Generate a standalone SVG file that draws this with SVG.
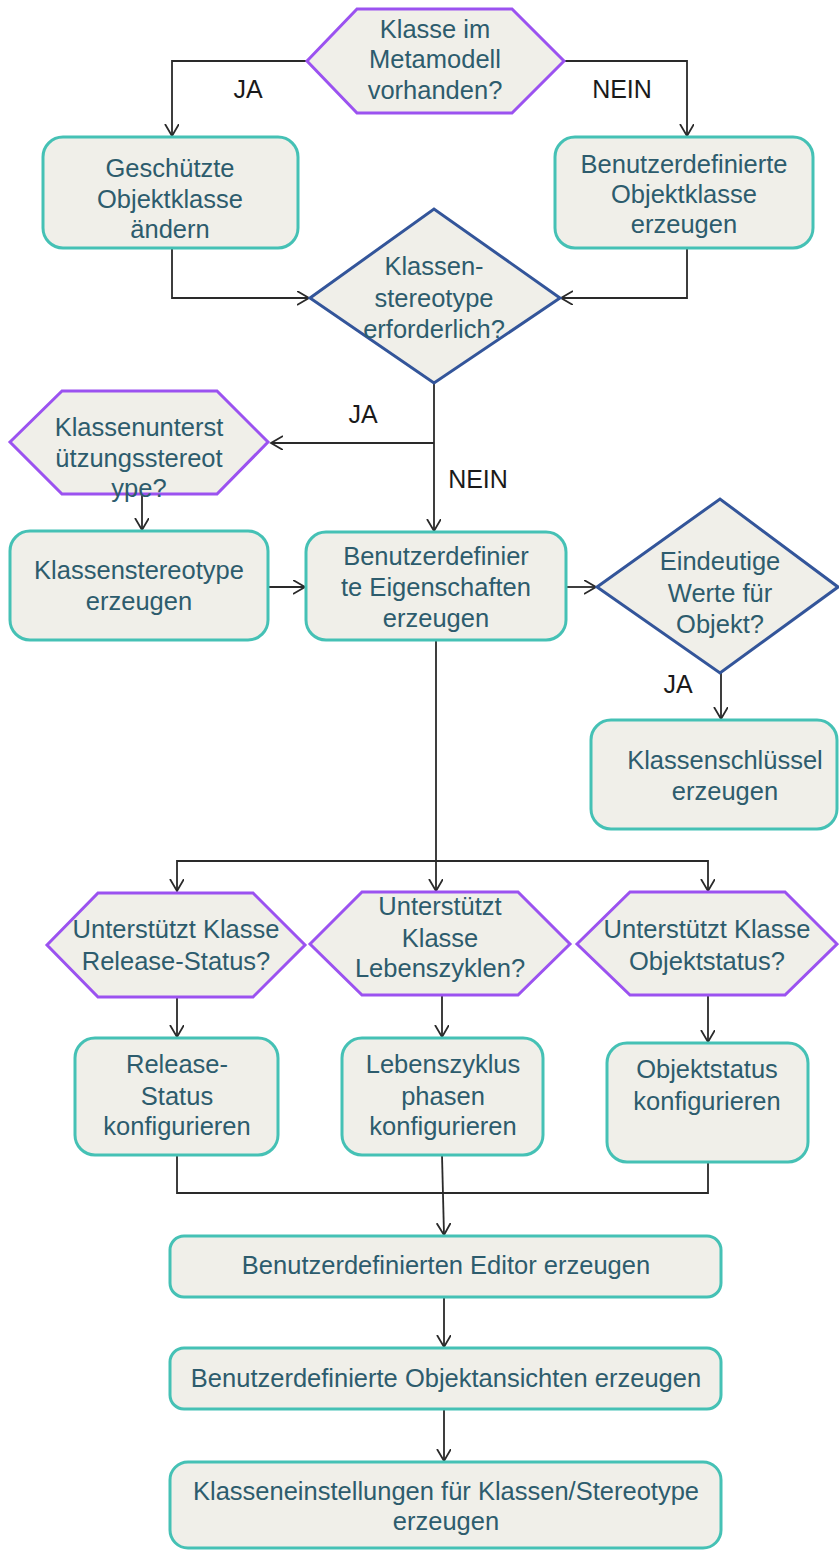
<svg xmlns="http://www.w3.org/2000/svg" width="839" height="1550" viewBox="0 0 839 1550">
<style>
  .box{fill:#f0efe9;stroke:#45c1b5;stroke-width:3}
  .hex{fill:#f0efe9;stroke:#9b52f0;stroke-width:3}
  .dia{fill:#f0efe9;stroke:#33559a;stroke-width:3}
  .t{font-family:"Liberation Sans",Arial,sans-serif;font-size:25.5px;fill:#2d5c6d;text-anchor:middle}
  .lbl{font-family:"Liberation Sans",Arial,sans-serif;font-size:25px;fill:#1a1a1a;text-anchor:middle}
  .c{fill:none;stroke:#2a2a2a;stroke-width:1.8}
</style>
<defs>
  <marker id="arr" markerUnits="userSpaceOnUse" markerWidth="14" markerHeight="16" refX="12" refY="7" orient="auto">
    <path d="M0,0 L12,7 L0,14" fill="none" stroke="#2a2a2a" stroke-width="1.8"/>
  </marker>
</defs>
<rect width="839" height="1550" fill="#ffffff"/>
<g id="connectors">
  <path class="c" d="M307,61 H172 V136" marker-end="url(#arr)"/>
  <path class="c" d="M564,61 H687 V136" marker-end="url(#arr)"/>
  <path class="c" d="M172,248 V298 H309" marker-end="url(#arr)"/>
  <path class="c" d="M687,248 V298 H561" marker-end="url(#arr)"/>
  <path class="c" d="M434,383 V531" marker-end="url(#arr)"/>
  <path class="c" d="M434,443 H271" marker-end="url(#arr)"/>
  <path class="c" d="M142,494 V530" marker-end="url(#arr)"/>
  <path class="c" d="M268,587 H305" marker-end="url(#arr)"/>
  <path class="c" d="M566,587 H596" marker-end="url(#arr)"/>
  <path class="c" d="M721,673 V719" marker-end="url(#arr)"/>
  <path class="c" d="M436,640 V891" marker-end="url(#arr)"/>
  <path class="c" d="M436,861 H177 V891" marker-end="url(#arr)"/>
  <path class="c" d="M436,861 H708 V891" marker-end="url(#arr)"/>
  <path class="c" d="M177,997 V1037" marker-end="url(#arr)"/>
  <path class="c" d="M442,995 V1037" marker-end="url(#arr)"/>
  <path class="c" d="M708,995 V1042" marker-end="url(#arr)"/>
  <path class="c" d="M177,1155 V1193 H708 V1162"/>
  <path class="c" d="M442,1155 L444,1235" marker-end="url(#arr)"/>
  <path class="c" d="M444,1297 V1347" marker-end="url(#arr)"/>
  <path class="c" d="M444,1409 V1461" marker-end="url(#arr)"/>
  <text class="lbl" x="248" y="98">JA</text>
  <text class="lbl" x="622" y="98">NEIN</text>
  <text class="lbl" x="363" y="423">JA</text>
  <text class="lbl" x="478" y="488">NEIN</text>
  <text class="lbl" x="678" y="693">JA</text>
</g>
<g id="n_metamodell">
  <polygon class="hex" points="307,61 357,9 512,9 564,61 512,113 357,113"/>
  <text class="t" x="435" y="38">Klasse im</text>
  <text class="t" x="435" y="68">Metamodell</text>
  <text class="t" x="435" y="99">vorhanden?</text>
</g>
<g id="n_geschuetzt">
  <rect class="box" x="43" y="137" width="255" height="111" rx="20"/>
  <text class="t" x="170" y="177">Geschützte</text>
  <text class="t" x="170" y="208">Objektklasse</text>
  <text class="t" x="170" y="238">ändern</text>
</g>
<g id="n_benutzerdef_klasse">
  <rect class="box" x="555" y="137" width="258" height="111" rx="20"/>
  <text class="t" x="684" y="173">Benutzerdefinierte</text>
  <text class="t" x="684" y="203">Objektklasse</text>
  <text class="t" x="684" y="233">erzeugen</text>
</g>
<g id="n_stereotype_erf">
  <polygon class="dia" points="310,298 434,209 560,298 434,383"/>
  <text class="t" x="434" y="275">Klassen-</text>
  <text class="t" x="434" y="307">stereotype</text>
  <text class="t" x="434" y="338">erforderlich?</text>
</g>
<g id="n_unterstuetzung">
  <polygon class="hex" points="10,442 62,391 217,391 268,442 217,494 62,494"/>
  <text class="t" x="139" y="436">Klassenunterst</text>
  <text class="t" x="139" y="467">ützungsstereot</text>
  <text class="t" x="139" y="497">ype?</text>
</g>
<g id="n_klassenstereotype">
  <rect class="box" x="10" y="531" width="258" height="109" rx="20"/>
  <text class="t" x="139" y="579">Klassenstereotype</text>
  <text class="t" x="139" y="610">erzeugen</text>
</g>
<g id="n_eigenschaften">
  <rect class="box" x="306" y="532" width="260" height="108" rx="20"/>
  <text class="t" x="436" y="565">Benutzerdefinier</text>
  <text class="t" x="436" y="596">te Eigenschaften</text>
  <text class="t" x="436" y="627">erzeugen</text>
</g>
<g id="n_eindeutig">
  <polygon class="dia" points="597,587 720,499 838,587 720,673"/>
  <text class="t" x="720" y="570">Eindeutige</text>
  <text class="t" x="720" y="602">Werte für</text>
  <text class="t" x="720" y="633">Objekt?</text>
</g>
<g id="n_schluessel">
  <rect class="box" x="591" y="720" width="246" height="109" rx="20"/>
  <text class="t" x="725" y="769">Klassenschlüssel</text>
  <text class="t" x="725" y="800">erzeugen</text>
</g>
<g id="n_release_q">
  <polygon class="hex" points="47,945 98,893 253,893 305,945 253,997 98,997"/>
  <text class="t" x="176" y="938">Unterstützt Klasse</text>
  <text class="t" x="176" y="970">Release-Status?</text>
</g>
<g id="n_lebens_q">
  <polygon class="hex" points="310,944 362,892 518,892 570,944 518,995 362,995"/>
  <text class="t" x="440" y="915">Unterstützt</text>
  <text class="t" x="440" y="947">Klasse</text>
  <text class="t" x="440" y="977">Lebenszyklen?</text>
</g>
<g id="n_objekt_q">
  <polygon class="hex" points="577,944 630,892 785,892 837,944 785,995 630,995"/>
  <text class="t" x="707" y="938">Unterstützt Klasse</text>
  <text class="t" x="707" y="970">Objektstatus?</text>
</g>
<g id="n_release">
  <rect class="box" x="75" y="1038" width="203" height="117" rx="20"/>
  <text class="t" x="177" y="1073">Release-</text>
  <text class="t" x="177" y="1105">Status</text>
  <text class="t" x="177" y="1135">konfigurieren</text>
</g>
<g id="n_lebens">
  <rect class="box" x="342" y="1038" width="201" height="117" rx="20"/>
  <text class="t" x="443" y="1073">Lebenszyklus</text>
  <text class="t" x="443" y="1105">phasen</text>
  <text class="t" x="443" y="1135">konfigurieren</text>
</g>
<g id="n_objekt">
  <rect class="box" x="607" y="1043" width="201" height="119" rx="20"/>
  <text class="t" x="707" y="1078">Objektstatus</text>
  <text class="t" x="707" y="1110">konfigurieren</text>
</g>
<g id="n_editor">
  <rect class="box" x="170" y="1236" width="551" height="61" rx="14"/>
  <text class="t" x="446" y="1274">Benutzerdefinierten Editor erzeugen</text>
</g>
<g id="n_ansichten">
  <rect class="box" x="170" y="1348" width="551" height="61" rx="14"/>
  <text class="t" x="446" y="1387">Benutzerdefinierte Objektansichten erzeugen</text>
</g>
<g id="n_einstellungen">
  <rect class="box" x="170" y="1462" width="551" height="86" rx="18"/>
  <text class="t" x="446" y="1500">Klasseneinstellungen für Klassen/Stereotype</text>
  <text class="t" x="446" y="1530">erzeugen</text>
</g>
</svg>
